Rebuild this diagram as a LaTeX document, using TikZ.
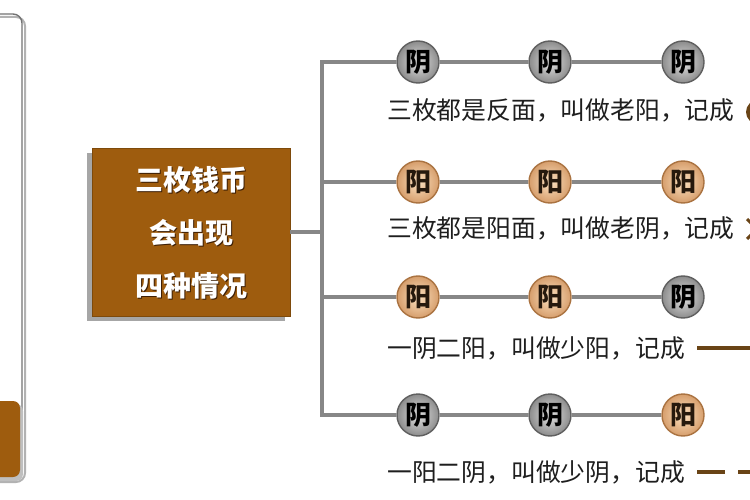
\documentclass[tikz,border=0pt]{standalone}
\usepackage{fontspec}
\setmainfont{Noto Sans CJK SC}
\usetikzlibrary{shadows}
\definecolor{brownbox}{RGB}{158,92,14}
\definecolor{linegray}{RGB}{135,135,135}
\definecolor{yinin}{RGB}{225,225,225}
\definecolor{yinout}{RGB}{140,140,140}
\definecolor{yinborder}{RGB}{95,95,95}
\definecolor{yangin}{RGB}{252,225,192}
\definecolor{yangout}{RGB}{214,158,108}
\definecolor{yangborder}{RGB}{170,115,65}
\definecolor{markbrown}{RGB}{105,68,22}
\definecolor{textdark}{RGB}{30,30,30}
\definecolor{txtshadow}{RGB}{60,30,5}
\tikzset{
  coin/.style={circle, minimum size=42pt, inner sep=0pt, line width=1.4pt,
    font=\fontsize{26}{26}\selectfont\bfseries, text=black, shading=radial},
  yin/.style={coin, draw=yinborder, inner color=yinin, outer color=yinout},
  yang/.style={coin, draw=yangborder, inner color=yangin, outer color=yangout, text=black!80!brown},
  conn/.style={draw=linegray, line width=4pt},
  rowtext/.style={anchor=west, inner sep=0pt, text=textdark, font=\fontsize{24.8}{25}\selectfont},
  mainbox/.style={draw=brownbox!80!black, line width=0.6pt, fill=brownbox, minimum width=198pt, minimum height=168pt,
    drop shadow={shadow xshift=-5pt, shadow yshift=-5pt, fill=black!35, opacity=1}},
  boxtext/.style={align=center, font=\fontsize{28}{53}\selectfont\bfseries, inner sep=0pt},
  markline/.style={draw=markbrown, line width=4.5pt},
}
\begin{document}
\begin{tikzpicture}[x=1pt,y=-1pt]
\useasboundingbox (0,0) rectangle (750,500);
\fill[white] (0,0) rectangle (750,500);
\begin{scope}
\clip (0,0) rectangle (750,500);
% left frame
\draw[black!30, line width=2pt, rounded corners=9pt] (-30,17) rectangle (25,482);
\draw[black!55, line width=1.4pt, rounded corners=9pt] (-30,14) rectangle (22,479);
\fill[black!25, rounded corners=7pt] (-30,404) rectangle (23,481);
\fill[brownbox, rounded corners=7pt] (-30,401) rectangle (20,477);
% main box
\node[mainbox] (box) at (191,232) {};
\node[boxtext, text=txtshadow] (boxsh) at (192.5,234) {三枚钱币\\会出现\\四种情况};
\node[boxtext, text=white] (boxtxt) at (191,232.5) {三枚钱币\\会出现\\四种情况};
% coins
\node[yin]  (c11) at (418,62) {阴};
\node[yin]  (c12) at (550,62) {阴};
\node[yin]  (c13) at (683,62) {阴};
\node[yang] (c21) at (418,182) {阳};
\node[yang] (c22) at (550,182) {阳};
\node[yang] (c23) at (683,182) {阳};
\node[yang] (c31) at (418,297) {阳};
\node[yang] (c32) at (550,297) {阳};
\node[yin]  (c33) at (683,297) {阴};
\node[yin]  (c41) at (418,415) {阴};
\node[yin]  (c42) at (550,415) {阴};
\node[yang] (c43) at (683,415) {阳};
% trunk
\coordinate (j) at (322,232);
\coordinate (b1) at (322,62);
\coordinate (b2) at (322,182);
\coordinate (b3) at (322,297);
\coordinate (b4) at (322,415);
\draw[conn] (box.east) -- (j);
\draw[conn, line cap=rect] (b1) -- (b4);
\draw[conn] (b1) -- (c11); \draw[conn] (c11) -- (c12); \draw[conn] (c12) -- (c13);
\draw[conn] (b2) -- (c21); \draw[conn] (c21) -- (c22); \draw[conn] (c22) -- (c23);
\draw[conn] (b3) -- (c31); \draw[conn] (c31) -- (c32); \draw[conn] (c32) -- (c33);
\draw[conn] (b4) -- (c41); \draw[conn] (c41) -- (c42); \draw[conn] (c42) -- (c43);
% row texts
\node[rowtext] (t1) at (387,110) {三枚都是反面，叫做老阳，记成};
\node[rowtext] (t2) at (387,228) {三枚都是阳面，叫做老阴，记成};
\node[rowtext] (t3) at (387,348) {一阴二阳，叫做少阳，记成};
\node[rowtext] (t4) at (387,472) {一阳二阴，叫做少阴，记成};
% marks (cut at the right edge)
\node[circle, fill=markbrown, minimum size=24pt, inner sep=0pt] (m1) at (758,112) {};
\coordinate (x1a) at (747,219); \coordinate (x1b) at (767,239);
\coordinate (x2a) at (747,239); \coordinate (x2b) at (767,219);
\draw[markbrown, line width=3pt] (x1a) -- (x1b);
\draw[markbrown, line width=3pt] (x2a) -- (x2b);
\coordinate (l3a) at (697,348); \coordinate (l3b) at (760,348);
\draw[markline] (l3a) -- (l3b);
\coordinate (l4a) at (697,472); \coordinate (l4b) at (725,472);
\coordinate (l4c) at (738,472); \coordinate (l4d) at (765,472);
\draw[markline] (l4a) -- (l4b);
\draw[markline] (l4c) -- (l4d);
\end{scope}
\end{tikzpicture}
\end{document}
